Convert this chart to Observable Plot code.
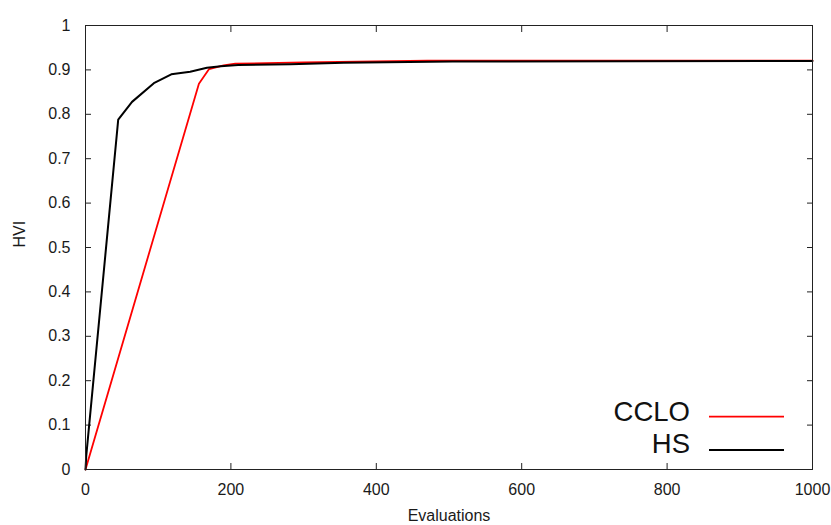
<!DOCTYPE html>
<html><head><meta charset="utf-8">
<script src="https://cdn.jsdelivr.net/npm/d3@7"></script>
<script src="https://cdn.jsdelivr.net/npm/@observablehq/plot@0.6"></script>
<style>body{margin:0;background:#fff}svg{display:block}</style>
</head><body><div id="chart"></div>
<script>
const seriesNames = ["CCLO", "HS"];
const seriesColors = ["#ff0000", "#000000"];
const ccloEvals = [0, 156, 170, 190, 206, 300, 470, 1000];
const ccloHVI   = [0, 0.869, 0.902, 0.910, 0.914, 0.917, 0.921, 0.921];
const hsEvals = [0, 1, 45, 64, 94, 118, 144, 167, 186, 210, 282, 355, 505, 1000];
const hsHVI   = [0, 0.03, 0.788, 0.828, 0.870, 0.890, 0.896, 0.905, 0.908, 0.911, 0.913, 0.916, 0.919, 0.920];
const xTicks = [0, 200, 400, 600, 800, 1000];
const xTickLabels = ["0", "200", "400", "600", "800", "1000"];
const yTicks = [0, 0.1, 0.2, 0.3, 0.4, 0.5, 0.6, 0.7, 0.8, 0.9, 1];
const yTickLabels = ["0", "0.1", "0.2", "0.3", "0.4", "0.5", "0.6", "0.7", "0.8", "0.9", "1"];
const xTitle = "Evaluations";
const yTitle = "HVI";

const data = [
  ...ccloEvals.map((x, i) => ({series: "CCLO", x, y: ccloHVI[i]})),
  ...hsEvals.map((x, i) => ({series: "HS", x, y: hsHVI[i]}))
];
const xLab = new Map(xTicks.map((t, i) => [t, xTickLabels[i]]));
const yLab = new Map(yTicks.map((t, i) => [t, yTickLabels[i]]));
const ink = "#1a1a1a";
const axisInk = "#222";

const plot = Plot.plot({
  width: 831, height: 525,
  marginLeft: 85, marginRight: 19, marginTop: 25, marginBottom: 56,
  style: {fontFamily: "'Liberation Sans', Arial, sans-serif", fontSize: "16px", color: ink, background: "#fff"},
  x: {domain: [0, 1000]},
  y: {domain: [0, 1]},
  color: {domain: seriesNames, range: seriesColors},
  marks: [
    Plot.axisX(xTicks, {anchor: "bottom", tickSize: 0, tickPadding: 14, label: null, tickFormat: d => xLab.get(d)}),
    Plot.axisY(yTicks, {anchor: "left", tickSize: 0, tickPadding: 15, label: null, tickFormat: d => yLab.get(d)}),
    Plot.axisX(xTicks, {anchor: "bottom", tickSize: 6, dy: -6, label: null, tickFormat: () => "", stroke: axisInk}),
    Plot.axisX(xTicks, {anchor: "top", tickSize: 6, dy: 6, label: null, tickFormat: () => "", stroke: axisInk}),
    Plot.axisY(yTicks, {anchor: "left", tickSize: 6, dx: 6, label: null, tickFormat: () => "", stroke: axisInk}),
    Plot.axisY(yTicks, {anchor: "right", tickSize: 6, dx: -6, label: null, tickFormat: () => "", stroke: axisInk}),
    Plot.line(data.filter(d => d.series === "CCLO"), {x: "x", y: "y", stroke: "series", strokeWidth: 1.8}),
    Plot.line(data.filter(d => d.series === "HS"), {x: "x", y: "y", stroke: "series", strokeWidth: 2}),
    Plot.frame({stroke: axisInk}),
    Plot.text([xTitle], {frameAnchor: "bottom", dy: 51, lineAnchor: "bottom", fill: ink, fontSize: 16}),
    Plot.text([yTitle], {frameAnchor: "left", dx: -66, rotate: -90, lineAnchor: "middle", fill: ink, fontSize: 16})
  ]
});
document.getElementById("chart").append(plot);

// legend (bottom-right, inside the frame)
const svg = d3.select(plot);
const legend = svg.append("g").attr("font-family", "'Liberation Sans', Arial, sans-serif").attr("font-size", 27.5);
const legendRows = [{y: 420.7, ly: 416.7}, {y: 452.5, ly: 450}];
seriesNames.forEach((name, i) => {
  legend.append("text").attr("x", 690).attr("y", legendRows[i].y).attr("text-anchor", "end").attr("fill", "#111").text(name);
  legend.append("line").attr("x1", 709).attr("x2", 784).attr("y1", legendRows[i].ly).attr("y2", legendRows[i].ly)
    .attr("stroke", seriesColors[i]).attr("stroke-width", i === 0 ? 1.8 : 2);
});
</script>
</body></html>
